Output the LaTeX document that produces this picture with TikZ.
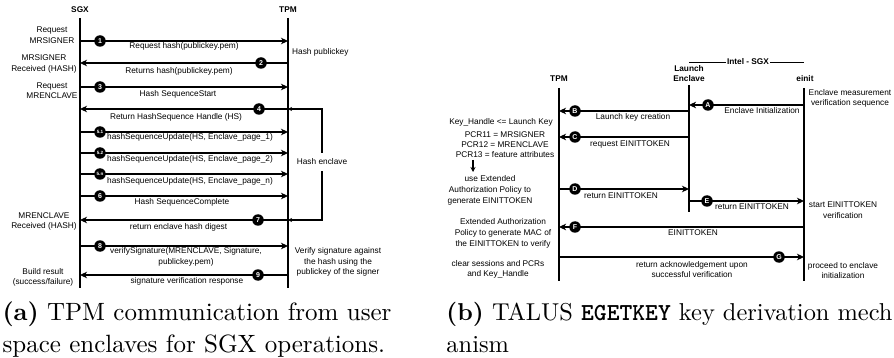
\documentclass[tikz,border=0pt]{standalone}
\usepackage{fontspec}
\newfontfamily\dfont{Liberation Sans}
\usetikzlibrary{arrows.meta}
\tikzset{
  lbl/.style={font=\dfont\fontsize{8.3}{10.5}\selectfont, inner sep=0pt, align=center},
  hdr/.style={font=\dfont\bfseries\fontsize{8.3}{10}\selectfont, inner sep=0pt, align=center},
  life/.style={line width=1.5pt},
  msg/.style={line width=1.4pt, -{Stealth[length=7pt,width=6.5pt,inset=2pt]}},
  brk/.style={line width=1.2pt, -{Stealth[length=4pt,width=4pt]}},
  num/.style={circle, fill=black, inner sep=0pt, minimum size=11.5pt, text=white, font=\dfont\bfseries\fontsize{7}{7}\selectfont},
  numsm/.style={num, font=\dfont\bfseries\fontsize{4.6}{5}\selectfont},
  captxt/.style={inner sep=0pt, scale=2.5, anchor=base west, font=\fontsize{10}{12}\selectfont},
  captxtb/.style={captxt, scale=0.976},
}
\begin{document}
\begin{tikzpicture}[x=1pt,y=-1pt]
\useasboundingbox (0,0) rectangle (894,358);
% ================= (a) =================
\node[hdr] (sgx) at (80,10) {SGX};
\node[hdr] (tpma) at (288,10) {TPM};
\coordinate (sgxtop) at (80,18); \coordinate (sgxbot) at (80,288);
\coordinate (tpmatop) at (288,18); \coordinate (tpmabot) at (288,288);
\draw[life] (sgxtop) -- (sgxbot);
\draw[life] (tpmatop) -- (tpmabot);
% messages
\foreach \i/\y in {1/41,2/63,3/87,4/109,51/132,52/153,5n/174,6/196,7/220,8/246,9/275}{
  \coordinate (s\i) at (80,\y); \coordinate (t\i) at (288,\y);
}
\draw[msg] (s1) -- (t1);
\draw[msg] (t2) -- (s2);
\draw[msg] (s3) -- (t3);
\draw[msg] (t4) -- (s4);
\draw[msg] (s51) -- (t51);
\draw[msg] (s52) -- (t52);
\draw[msg] (s5n) -- (t5n);
\draw[msg] (s6) -- (t6);
\draw[msg] (t7) -- (s7);
\draw[msg] (s8) -- (t8);
\draw[msg] (t9) -- (s9);
\node[num] (n1) at (100,41) {1};
\node[num] (n2) at (261,63) {2};
\node[num] (n3) at (100,87) {3};
\node[num] (n4) at (259,109) {4};
\node[numsm] (n51) at (100,132) {5.1};
\node[numsm] (n52) at (100,153) {5.2};
\node[numsm] (n5n) at (100,174) {5.n};
\node[num] (n6) at (100,196) {6};
\node[num] (n7) at (258,220) {7};
\node[num] (n8) at (100,246) {8};
\node[num] (n9) at (258,275) {9};
% message labels
\node[lbl] (l1) at (184,46.5) {Request hash(publickey.pem)};
\node[lbl] (l2) at (179,71) {Returns hash(publickey.pem)};
\node[lbl] (l3) at (178,94) {Hash SequenceStart};
\node[lbl] (l4) at (176,117) {Return HashSequence Handle (HS)};
\node[lbl] (l51) at (190,137.5) {hashSequenceUpdate(HS, Enclave\_page\_1)};
\node[lbl] (l52) at (190,159) {hashSequenceUpdate(HS, Enclave\_page\_2)};
\node[lbl] (l5n) at (190,181) {hashSequenceUpdate(HS, Enclave\_page\_n)};
\node[lbl] (l6) at (182,202) {Hash SequenceComplete};
\node[lbl] (l7) at (178.5,227) {return enclave hash digest};
\node[lbl] (l8) at (186,257) {verifySignature(MRENCLAVE, Signature,\\publickey.pem)};
\node[lbl] (l9) at (187,281) {signature verification response};
% left labels
\node[lbl] (la1) at (52,35) {Request\\MRSIGNER};
\node[lbl] (la2) at (44,64) {MRSIGNER\\Received (HASH)};
\node[lbl] (la3) at (52,90.5) {Request\\MRENCLAVE};
\node[lbl] (la4) at (44,221.5) {MRENCLAVE\\Received (HASH)};
\node[lbl] (la5) at (43,277.5) {Build result\\(success/failure)};
% right labels
\node[lbl, anchor=west] (hpk) at (292,52) {Hash publickey};
\node[lbl, inner ysep=6pt] (hencl) at (322,162) {Hash enclave};
\draw[brk] (hencl.north) |- (t4);
\draw[brk] (hencl.south) |- (t7);
\node[lbl] (vsig) at (338,262) {Verify signature against\\the hash using the\\publickey of the signer};
% ================= (b) =================
\node[hdr] (tpmb) at (559,79) {TPM};
\node[hdr] (le) at (689,74) {Launch\\Enclave};
\node[hdr] (einit) at (805,79) {einit};
\node[hdr, inner xsep=1pt] (intel) at (748,62) {Intel - SGX};
\coordinate (intl) at (689,62); \coordinate (intr) at (804,62);
\draw[line width=0.9pt] (intl) -- (intel.west);
\draw[line width=0.9pt] (intel.east) -- (intr);
\coordinate (tpmbtop) at (559,88); \coordinate (tpmbbot) at (559,281);
\coordinate (letop) at (689,85); \coordinate (lebot) at (689,212);
\coordinate (eitop) at (804,88); \coordinate (eibot) at (804,281);
\draw[life] (tpmbtop) -- (tpmbbot);
\draw[life] (letop) -- (lebot);
\draw[life] (eitop) -- (eibot);
\foreach \n/\y in {A/105,B/111,C/137,D/189,E/201,F/227,G/257}{
  \coordinate (bt\n) at (559,\y); \coordinate (bl\n) at (689,\y); \coordinate (be\n) at (804,\y);
}
\draw[msg] (beA) -- (blA);
\draw[msg] (blB) -- (btB);
\draw[msg] (blC) -- (btC);
\draw[msg] (btD) -- (blD);
\draw[msg] (blE) -- (beE);
\draw[msg] (beF) -- (btF);
\draw[msg] (btG) -- (beG);
\node[num] (nA) at (708,105) {A};
\node[num] (nB) at (575,111) {B};
\node[num] (nC) at (575,137) {C};
\node[num] (nD) at (575,189) {D};
\node[num] (nE) at (707,201) {E};
\node[num] (nF) at (575,227) {F};
\node[num] (nG) at (779,257) {G};
\node[lbl] (lA) at (762,111) {Enclave Initialization};
\node[lbl] (lB) at (633,117) {Launch key creation};
\node[lbl] (lC) at (630,144) {request EINITTOKEN};
\node[lbl] (lD) at (621,196) {return EINITTOKEN};
\node[lbl] (lE) at (752,207) {return EINITTOKEN};
\node[lbl] (lF) at (693,233) {EINITTOKEN};
\node[lbl] (lG) at (692,269.5) {return acknowledgement upon\\successful verification};
% left labels (b)
\node[lbl] (kh) at (501,122) {Key\_Handle <= Launch Key};
\node[lbl, font=\dfont\fontsize{8.3}{10}\selectfont] (pcr) at (505,145) {PCR11 = MRSIGNER\\PCR12 = MRENCLAVE\\PCR13 = feature attributes};
\coordinate (da1) at (473,160); \coordinate (da2) at (473,172);
\draw[line width=1.2pt, -{Stealth[length=5pt,width=5pt]}] (da1) -- (da2);
\node[lbl, font=\dfont\fontsize{8.3}{11}\selectfont] (useea) at (490,190) {use Extended\\Authorization Policy to\\generate EINITTOKEN};
\node[lbl, font=\dfont\fontsize{8.3}{11}\selectfont] (eap) at (503,233.5) {Extended Authorization\\Policy to generate MAC of\\the EINITTOKEN to verify};
\node[lbl] (clr) at (498,269.5) {clear sessions and PCRs\\and Key\_Handle};
% right labels (b)
\node[lbl] (ems) at (850,98.5) {Enclave measurement\\verification sequence};
\node[lbl] (sev) at (843,210) {start EINITTOKEN\\verification};
\node[lbl] (pei) at (843,270.5) {proceed to enclave\\initialization};
% ================= captions =================
\node[captxt] (capa1) at (2,320) {\textbf{(a)} TPM communication from user};
\node[captxt] (capa2) at (2,352) {space enclaves for SGX operations.};
\node[captxtb] (capb1) at (446,320) {\textbf{(b)} TALUS {\ttfamily\bfseries EGETKEY} key derivation mech};
\node[captxtb] (capb2) at (446,352) {anism};
\end{tikzpicture}
\end{document}
